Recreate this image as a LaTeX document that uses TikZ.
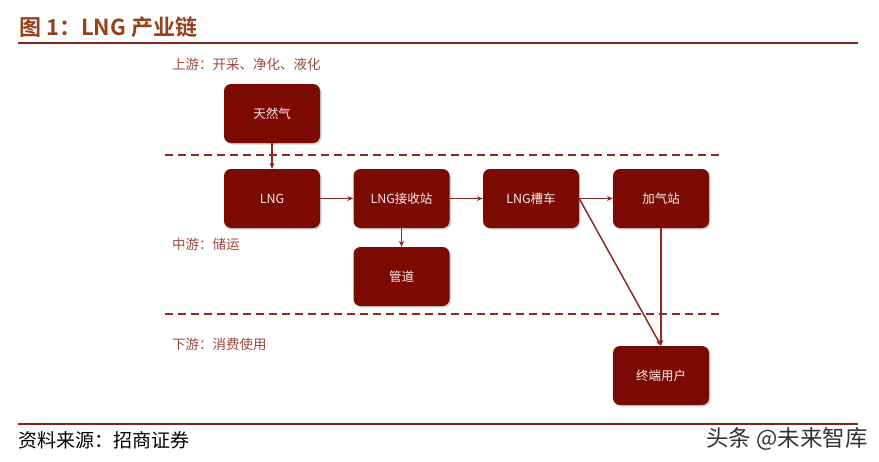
\documentclass[tikz,border=0pt]{standalone}
\usepackage{fontspec}
\setmainfont{Noto Sans CJK SC}[BoldFont={Noto Sans CJK SC Bold}]
\usetikzlibrary{arrows.meta,shadows}
\definecolor{boxred}{HTML}{7A0A02}
\definecolor{linered}{HTML}{8E2A22}
\definecolor{titlebrown}{HTML}{96401E}
\definecolor{lblbrown}{HTML}{9A4A3C}
\tikzset{
  stagebox/.style={draw=none, fill=boxred, rounded corners=7pt, minimum width=96pt, minimum height=59pt,
    text=white!92!red, font=\fontsize{12.5}{14}\selectfont, inner sep=0pt,
    drop shadow={shadow xshift=1.5pt, shadow yshift=-1.5pt, opacity=0.35, fill=gray}},
  flow/.style={draw=linered, line width=1.5pt, -{Stealth[length=6pt,width=5pt]}},
  divider/.style={draw=linered, line width=1.8pt, dash pattern=on 8pt off 5pt},
  stagelbl/.style={text=lblbrown, font=\fontsize{13.5}{15}\selectfont, anchor=west, inner sep=0pt},
}
\begin{document}
\begin{tikzpicture}[x=1pt,y=-1pt]
\useasboundingbox[fill=white] (0,0) rectangle (879,461);
% title
\node[anchor=west, inner sep=0pt, text=titlebrown, font=\fontsize{22}{24}\selectfont\bfseries] (title) at (19,27) {图 1：LNG 产业链};
\coordinate (tl1) at (18,43); \coordinate (tl2) at (858,43);
\draw[draw=linered!90!black, line width=2.2pt] (tl1) -- (tl2);
% stage labels
\node[stagelbl] (up) at (172,64) {上游：开采、净化、液化};
\node[stagelbl] (mid) at (172,244) {中游：储运};
\node[stagelbl] (down) at (172,344) {下游：消费使用};
% dividers
\coordinate (d1a) at (165,155); \coordinate (d1b) at (720,155);
\coordinate (d2a) at (165,314); \coordinate (d2b) at (720,314);
\draw[divider] (d1a) -- (d1b);
\draw[divider] (d2a) -- (d2b);
% boxes
\node[stagebox] (gas) at (272,113.5) {天然气};
\node[stagebox] (lng) at (272,198.5) {LNG};
\node[stagebox] (recv) at (401.5,198.5) {LNG接收站};
\node[stagebox] (truck) at (531,198.5) {LNG槽车};
\node[stagebox] (fill) at (661,198.5) {加气站};
\node[stagebox] (pipe) at (401.5,276.5) {管道};
\node[stagebox] (user) at (661,375.5) {终端用户};
% connectors
\draw[flow] (gas) -- (lng);
\draw[flow] (lng) -- (recv);
\draw[flow] (recv) -- (truck);
\draw[flow] (truck) -- (fill);
\draw[flow] (recv) -- (pipe);
\draw[flow] (fill) -- (user);
\draw[flow] (truck.east) -- (user.north);
% bottom
\coordinate (bl1) at (18,424); \coordinate (bl2) at (858,424);
\draw[draw=linered!90!black, line width=2.2pt] (bl1) -- (bl2);
\node[anchor=west, inner sep=0pt, font=\fontsize{19}{21}\selectfont] (src) at (18,440) {资料来源：招商证券};
\node[anchor=east, inner sep=0pt, text=black!80, font=\fontsize{22.5}{24}\selectfont] (wm) at (868,439) {头条 @未来智库};
\end{tikzpicture}
\end{document}
